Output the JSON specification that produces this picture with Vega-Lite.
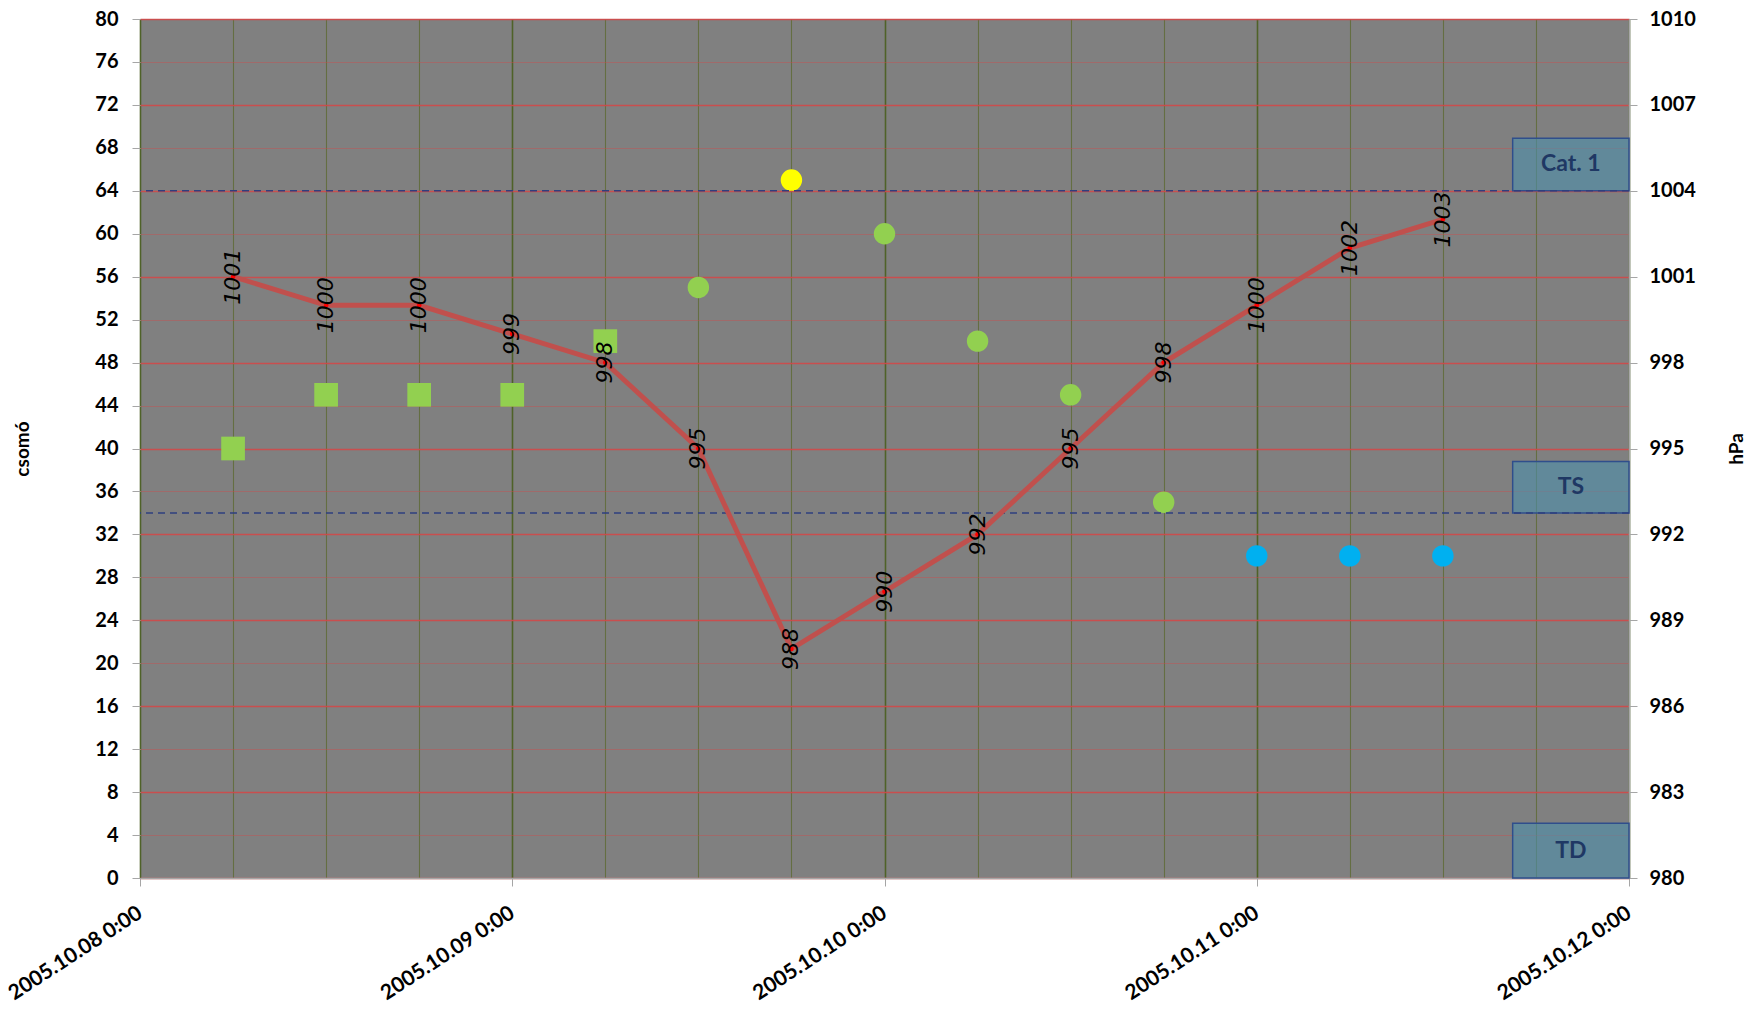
{
  "$schema": "https://vega.github.io/schema/vega-lite/v6.json",
  "width": 1489,
  "height": 859,
  "autosize": {"type": "none"},
  "padding": {"left": 140, "top": 19, "right": 130, "bottom": 135},
  "background": "white",
  "view": {"fill": "#808080", "stroke": null},
  "config": {
    "axis": {
      "labelFont": "Lato",
      "titleFont": "Lato",
      "labelFontWeight": "bold",
      "titleFontWeight": "bold",
      "labelColor": "#000000",
      "titleColor": "#000000",
      "domainColor": "#A6A6A6",
      "tickColor": "#A6A6A6"
    }
  },
  "datasets": {
    "obs": [
      {"t": "2005-10-08T06:00:00Z", "p": 1001, "kt": 40, "stage": "SS"},
      {"t": "2005-10-08T12:00:00Z", "p": 1000, "kt": 45, "stage": "SS"},
      {"t": "2005-10-08T18:00:00Z", "p": 1000, "kt": 45, "stage": "SS"},
      {"t": "2005-10-09T00:00:00Z", "p": 999, "kt": 45, "stage": "SS"},
      {"t": "2005-10-09T06:00:00Z", "p": 998, "kt": 50, "stage": "SS"},
      {"t": "2005-10-09T12:00:00Z", "p": 995, "kt": 55, "stage": "TS"},
      {"t": "2005-10-09T18:00:00Z", "p": 988, "kt": 65, "stage": "H1"},
      {"t": "2005-10-10T00:00:00Z", "p": 990, "kt": 60, "stage": "TS"},
      {"t": "2005-10-10T06:00:00Z", "p": 992, "kt": 50, "stage": "TS"},
      {"t": "2005-10-10T12:00:00Z", "p": 995, "kt": 45, "stage": "TS"},
      {"t": "2005-10-10T18:00:00Z", "p": 998, "kt": 35, "stage": "TS"},
      {"t": "2005-10-11T00:00:00Z", "p": 1000, "kt": 30, "stage": "TD"},
      {"t": "2005-10-11T06:00:00Z", "p": 1002, "kt": 30, "stage": "TD"},
      {"t": "2005-10-11T12:00:00Z", "p": 1003, "kt": 30, "stage": "TD"}
    ],
    "boxes": [
      {"t1": "2005-10-11T16:30:00Z", "t2": "2005-10-12T00:00:00Z", "tm": "2005-10-11T20:15:00Z", "y1": 64, "y2": 68.9, "ym": 66.45, "label": "Cat. 1"},
      {"t1": "2005-10-11T16:30:00Z", "t2": "2005-10-12T00:00:00Z", "tm": "2005-10-11T20:15:00Z", "y1": 34, "y2": 38.8, "ym": 36.4, "label": "TS"},
      {"t1": "2005-10-11T16:30:00Z", "t2": "2005-10-12T00:00:00Z", "tm": "2005-10-11T20:15:00Z", "y1": 0, "y2": 5.1, "ym": 2.55, "label": "TD"}
    ],
    "thresholds": [{"k": 64}, {"k": 34}]
  },
  "layer": [
    {
      "layer": [
        {
          "data": {"name": "obs"},
          "transform": [{"filter": "datum.stage == 'SS'"}],
          "mark": {"type": "point", "shape": "square", "filled": true, "opacity": 1, "size": 560, "color": "#92D050"},
          "encoding": {
            "x": {
              "field": "t", "type": "temporal",
              "scale": {"type": "utc", "nice": false, "domain": [{"year": 2005, "month": 10, "date": 8, "utc": true}, {"year": 2005, "month": 10, "date": 12, "utc": true}]},
              "axis": {
                "title": null,
                "values": [
                  {"year": 2005, "month": 10, "date": 8, "hours": 0, "utc": true},
                  {"year": 2005, "month": 10, "date": 8, "hours": 6, "utc": true},
                  {"year": 2005, "month": 10, "date": 8, "hours": 12, "utc": true},
                  {"year": 2005, "month": 10, "date": 8, "hours": 18, "utc": true},
                  {"year": 2005, "month": 10, "date": 9, "hours": 0, "utc": true},
                  {"year": 2005, "month": 10, "date": 9, "hours": 6, "utc": true},
                  {"year": 2005, "month": 10, "date": 9, "hours": 12, "utc": true},
                  {"year": 2005, "month": 10, "date": 9, "hours": 18, "utc": true},
                  {"year": 2005, "month": 10, "date": 10, "hours": 0, "utc": true},
                  {"year": 2005, "month": 10, "date": 10, "hours": 6, "utc": true},
                  {"year": 2005, "month": 10, "date": 10, "hours": 12, "utc": true},
                  {"year": 2005, "month": 10, "date": 10, "hours": 18, "utc": true},
                  {"year": 2005, "month": 10, "date": 11, "hours": 0, "utc": true},
                  {"year": 2005, "month": 10, "date": 11, "hours": 6, "utc": true},
                  {"year": 2005, "month": 10, "date": 11, "hours": 12, "utc": true},
                  {"year": 2005, "month": 10, "date": 11, "hours": 18, "utc": true},
                  {"year": 2005, "month": 10, "date": 12, "hours": 0, "utc": true}
                ],
                "labelExpr": "utchours(datum.value) == 0 ? utcFormat(datum.value, '%Y.%m.%d') + ' 0:00' : ''",
                "labelAngle": -33,
                "labelAlign": "right",
                "labelBaseline": "middle",
                "labelPadding": 25,
                "labelFontSize": 21,
                "labelOverlap": false,
                "labelFlush": false,
                "grid": true,
                "gridColor": {"condition": {"test": "utchours(datum.value) == 0", "value": "#4F6228"}, "value": "#646E42"},
                "gridWidth": {"condition": {"test": "utchours(datum.value) == 0", "value": 1.6}, "value": 1.1},
                "tickOpacity": {"condition": {"test": "utchours(datum.value) == 0", "value": 1}, "value": 0},
                "tickSize": 8,
                "domain": true,
                "domainWidth": 1.5
              }
            },
            "y": {
              "field": "kt", "type": "quantitative",
              "scale": {"domain": [0, 80], "nice": false, "zero": false},
              "axis": {
                "orient": "left",
                "values": [0, 4, 8, 12, 16, 20, 24, 28, 32, 36, 40, 44, 48, 52, 56, 60, 64, 68, 72, 76, 80],
                "labelFontSize": 20,
                "labelPadding": 14,
                "tickSize": 8,
                "domain": false,
                "grid": true,
                "gridColor": "#D04848",
                "gridOpacity": {"condition": {"test": "datum.value % 8 == 0", "value": 0.9}, "value": 0.4},
                "gridWidth": {"condition": {"test": "datum.value % 8 == 0", "value": 1.5}, "value": 1},
                "title": "csomó",
                "titleFontSize": 19,
                "titleAngle": 270,
                "titleAlign": "center",
                "titleBaseline": "middle",
                "titleX": -118,
                "titleY": 429.5
              }
            }
          }
        },
        {
          "data": {"name": "obs"},
          "transform": [{"filter": "datum.stage != 'SS'"}],
          "mark": {"type": "point", "shape": "circle", "filled": true, "opacity": 1, "size": 460},
          "encoding": {
            "x": {"field": "t", "type": "temporal", "scale": {"type": "utc", "nice": false, "domain": [{"year": 2005, "month": 10, "date": 8, "utc": true}, {"year": 2005, "month": 10, "date": 12, "utc": true}]}},
            "y": {"field": "kt", "type": "quantitative", "scale": {"domain": [0, 80], "nice": false, "zero": false}},
            "color": {"field": "stage", "type": "nominal", "legend": null, "scale": {"domain": ["TS", "H1", "TD"], "range": ["#92D050", "#FFFF00", "#00B0F0"]}}
          }
        },
        {
          "data": {"name": "boxes"},
          "mark": {"type": "rect", "fill": "#4C8FAB", "fillOpacity": 0.6, "stroke": "#2F4E8C", "strokeWidth": 1.5},
          "encoding": {
            "x": {"field": "t1", "type": "temporal", "scale": {"type": "utc", "nice": false, "domain": [{"year": 2005, "month": 10, "date": 8, "utc": true}, {"year": 2005, "month": 10, "date": 12, "utc": true}]}},
            "x2": {"field": "t2"},
            "y": {"field": "y1", "type": "quantitative", "scale": {"domain": [0, 80], "nice": false, "zero": false}},
            "y2": {"field": "y2"}
          }
        },
        {
          "data": {"name": "boxes"},
          "mark": {"type": "text", "font": "Lato", "fontWeight": "bold", "fontSize": 23, "color": "#1F3864", "align": "center", "baseline": "middle"},
          "encoding": {
            "x": {"field": "tm", "type": "temporal", "scale": {"type": "utc", "nice": false, "domain": [{"year": 2005, "month": 10, "date": 8, "utc": true}, {"year": 2005, "month": 10, "date": 12, "utc": true}]}},
            "y": {"field": "ym", "type": "quantitative", "scale": {"domain": [0, 80], "nice": false, "zero": false}},
            "text": {"field": "label"}
          }
        },
        {
          "data": {"name": "thresholds"},
          "mark": {"type": "rule", "color": "#2E3F7F", "strokeWidth": 1.5, "strokeDash": [7, 5]},
          "encoding": {
            "y": {"field": "k", "type": "quantitative", "scale": {"domain": [0, 80], "nice": false, "zero": false}}
          }
        }
      ]
    },
    {
      "layer": [
        {
          "data": {"name": "obs"},
          "mark": {"type": "line", "color": "#C0504D", "strokeWidth": 5},
          "encoding": {
            "x": {"field": "t", "type": "temporal", "scale": {"type": "utc", "nice": false, "domain": [{"year": 2005, "month": 10, "date": 8, "utc": true}, {"year": 2005, "month": 10, "date": 12, "utc": true}]}},
            "y": {
              "field": "p", "type": "quantitative",
              "scale": {"domain": [980, 1010], "nice": false, "zero": false},
              "axis": {
                "orient": "right",
                "values": [980, 983, 986, 989, 992, 995, 998, 1001, 1004, 1007, 1010],
                "format": "d",
                "labelFontSize": 20,
                "labelPadding": 12,
                "tickSize": 8,
                "domain": true,
                "domainWidth": 1.5,
                "grid": false,
                "title": "hPa",
                "titleFontSize": 19,
                "titleAngle": 270,
                "titleAlign": "center",
                "titleBaseline": "middle",
                "titleX": 107,
                "titleY": 429.5
              }
            }
          }
        },
        {
          "data": {"name": "obs"},
          "mark": {"type": "point", "shape": "circle", "filled": true, "opacity": 1, "size": 22, "color": "#FF0000"},
          "encoding": {
            "x": {"field": "t", "type": "temporal", "scale": {"type": "utc", "nice": false, "domain": [{"year": 2005, "month": 10, "date": 8, "utc": true}, {"year": 2005, "month": 10, "date": 12, "utc": true}]}},
            "y": {"field": "p", "type": "quantitative", "scale": {"domain": [980, 1010], "nice": false, "zero": false}}
          }
        },
        {
          "data": {"name": "obs"},
          "mark": {"type": "text", "font": "DejaVu Sans", "fontStyle": "italic", "fontSize": 22, "color": "#000000", "angle": 270, "align": "center", "baseline": "middle"},
          "encoding": {
            "x": {"field": "t", "type": "temporal", "scale": {"type": "utc", "nice": false, "domain": [{"year": 2005, "month": 10, "date": 8, "utc": true}, {"year": 2005, "month": 10, "date": 12, "utc": true}]}},
            "y": {"field": "p", "type": "quantitative", "scale": {"domain": [980, 1010], "nice": false, "zero": false}},
            "text": {"field": "p", "type": "quantitative", "format": "d"}
          }
        }
      ]
    }
  ],
  "resolve": {"scale": {"y": "independent"}}
}
